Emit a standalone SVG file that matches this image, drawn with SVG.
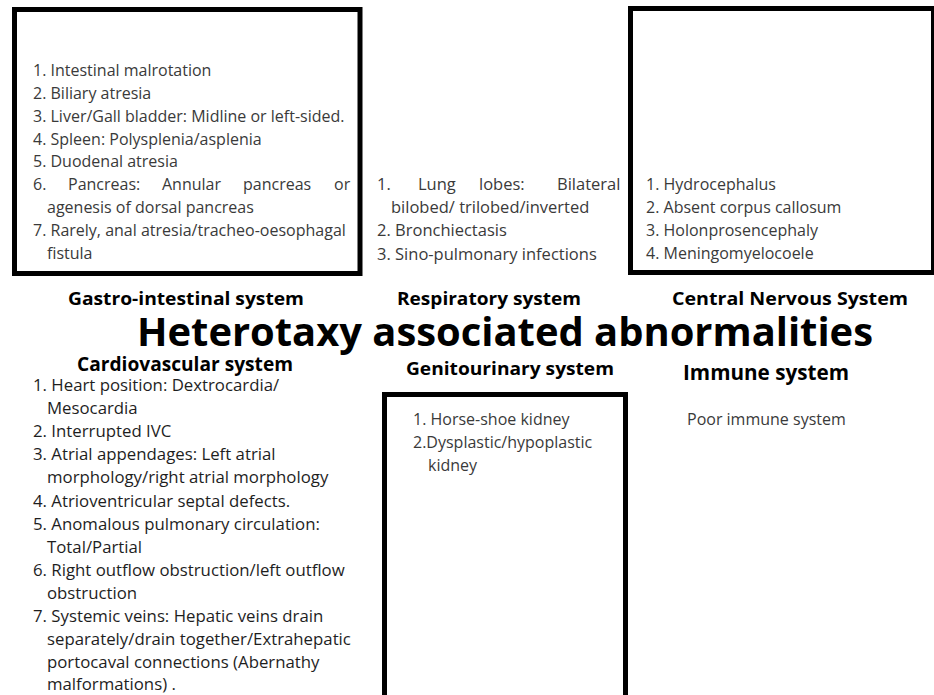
<svg xmlns="http://www.w3.org/2000/svg" width="934" height="695" viewBox="0 0 934 695">
<style>
.box{fill:#fff;stroke:#000;stroke-width:5}
.b{font-family:"Open Sans","Liberation Sans",sans-serif;font-size:16px;fill:#3a3a3a}
.r{font-family:"Open Sans","Liberation Sans",sans-serif;font-size:16.5px;fill:#3a3a3a}
.cv{font-family:"Open Sans","Liberation Sans",sans-serif;font-size:16.8px;fill:#1e1e1e}
.h{font-family:"Open Sans","Liberation Sans",sans-serif;font-weight:700;fill:#000}
</style>
<rect width="934" height="695" fill="#fff"/>
<g id="gi">
<rect class="box" x="14.5" y="9.5" width="345.5" height="264"/>
<text class="b" x="33" y="76">1. Intestinal malrotation</text>
<text class="b" x="33" y="99">2. Biliary atresia</text>
<text class="b" x="33" y="122">3. Liver/Gall bladder: Midline or left-sided.</text>
<text class="b" x="33" y="145">4. Spleen: Polysplenia/asplenia</text>
<text class="b" x="33" y="167">5. Duodenal atresia</text>
<text class="b" y="190"><tspan x="33">6.</tspan><tspan x="68">Pancreas:</tspan><tspan x="162">Annular</tspan><tspan x="243">pancreas</tspan><tspan x="334">or</tspan></text>
<text class="b" x="47" y="213">agenesis of dorsal pancreas</text>
<text class="b" x="33" y="236">7. Rarely, anal atresia/tracheo-oesophagal</text>
<text class="b" x="47" y="259">fistula</text>
<text class="h" x="68" y="305" font-size="18" textLength="236" lengthAdjust="spacingAndGlyphs">Gastro-intestinal system</text>
</g>
<g id="resp">
<text class="r" y="190"><tspan x="377">1.</tspan><tspan x="418">Lung</tspan><tspan x="479">lobes:</tspan><tspan x="557">Bilateral</tspan></text>
<text class="r" x="391" y="213">bilobed/ trilobed/inverted</text>
<text class="r" x="377" y="236">2. Bronchiectasis</text>
<text class="r" x="377" y="260">3. Sino-pulmonary infections</text>
<text class="h" x="397" y="305" font-size="18" textLength="184" lengthAdjust="spacingAndGlyphs">Respiratory system</text>
</g>
<g id="cns">
<rect class="box" x="630.5" y="8.5" width="303" height="264"/>
<text class="b" x="646" y="190">1. Hydrocephalus</text>
<text class="b" x="646" y="213">2. Absent corpus callosum</text>
<text class="b" x="646" y="236">3. Holonprosencephaly</text>
<text class="b" x="646" y="259">4. Meningomyelocoele</text>
<text class="h" x="672" y="305" font-size="18" textLength="236" lengthAdjust="spacingAndGlyphs">Central Nervous System</text>
</g>
<g id="title">
<text class="h" x="137" y="346" font-size="39" font-weight="800" textLength="736" lengthAdjust="spacingAndGlyphs">Heterotaxy associated abnormalities</text>
</g>
<g id="cv">
<text class="h" x="77" y="371" font-size="19.5" textLength="216" lengthAdjust="spacingAndGlyphs">Cardiovascular system</text>
<text class="cv" x="33" y="391">1. Heart position: Dextrocardia/</text>
<text class="cv" x="47" y="414">Mesocardia</text>
<text class="cv" x="33" y="437">2. Interrupted IVC</text>
<text class="cv" x="33" y="460">3. Atrial appendages: Left atrial</text>
<text class="cv" x="47" y="483">morphology/right atrial morphology</text>
<text class="cv" x="33" y="507">4. Atrioventricular septal defects.</text>
<text class="cv" x="33" y="530">5. Anomalous pulmonary circulation:</text>
<text class="cv" x="47" y="553">Total/Partial</text>
<text class="cv" x="33" y="576">6. Right outflow obstruction/left outflow</text>
<text class="cv" x="47" y="599">obstruction</text>
<text class="cv" x="33" y="622">7. Systemic veins: Hepatic veins drain</text>
<text class="cv" x="47" y="645">separately/drain together/Extrahepatic</text>
<text class="cv" x="47" y="668">portocaval connections (Abernathy</text>
<text class="cv" x="47" y="690">malformations) .</text>
</g>
<g id="gu">
<text class="h" x="406" y="375" font-size="18.5" textLength="208" lengthAdjust="spacingAndGlyphs">Genitourinary system</text>
<rect class="box" x="384.5" y="394.5" width="241" height="320"/>
<text class="b" x="413" y="425">1. Horse-shoe kidney</text>
<text class="b" x="413" y="448">2.Dysplastic/hypoplastic</text>
<text class="b" x="428" y="471">kidney</text>
</g>
<g id="immune">
<text class="h" x="683" y="380" font-size="21" textLength="166" lengthAdjust="spacingAndGlyphs">Immune system</text>
<text class="b" x="687" y="425">Poor immune system</text>
</g>
<g id="connectors"></g>
</svg>
